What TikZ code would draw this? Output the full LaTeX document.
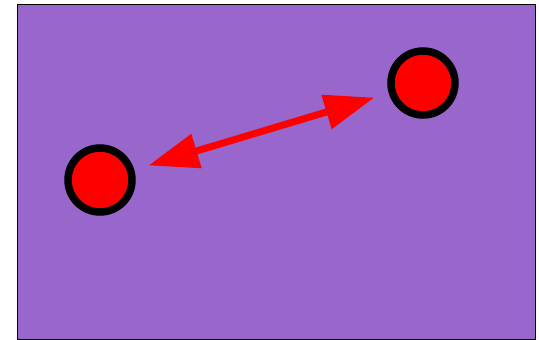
\documentclass[tikz,border=0pt]{standalone}
\usepackage{tikz}
\usetikzlibrary{arrows.meta}
\definecolor{field}{RGB}{153,102,204}

\begin{document}
\begin{tikzpicture}[x=1pt, y=-1pt,
    ball/.style={circle, draw=black, fill=red, line width=7.5pt, minimum size=64pt, inner sep=0pt}]
        \useasboundingbox (0,0) rectangle (539,340);
        \draw[fill=field, line width=1pt] (17,4) rectangle (535,339);
        \node[ball] (p) at (100,180) {};
        \node[ball] (q) at (423,83) {};
        \draw[{Triangle[length=50pt,width=34pt]}-{Triangle[length=50pt,width=34pt]}, red, line width=7pt,
          shorten <=15pt, shorten >=15pt] (p) -- (q);
      \end{tikzpicture}
\end{document}
